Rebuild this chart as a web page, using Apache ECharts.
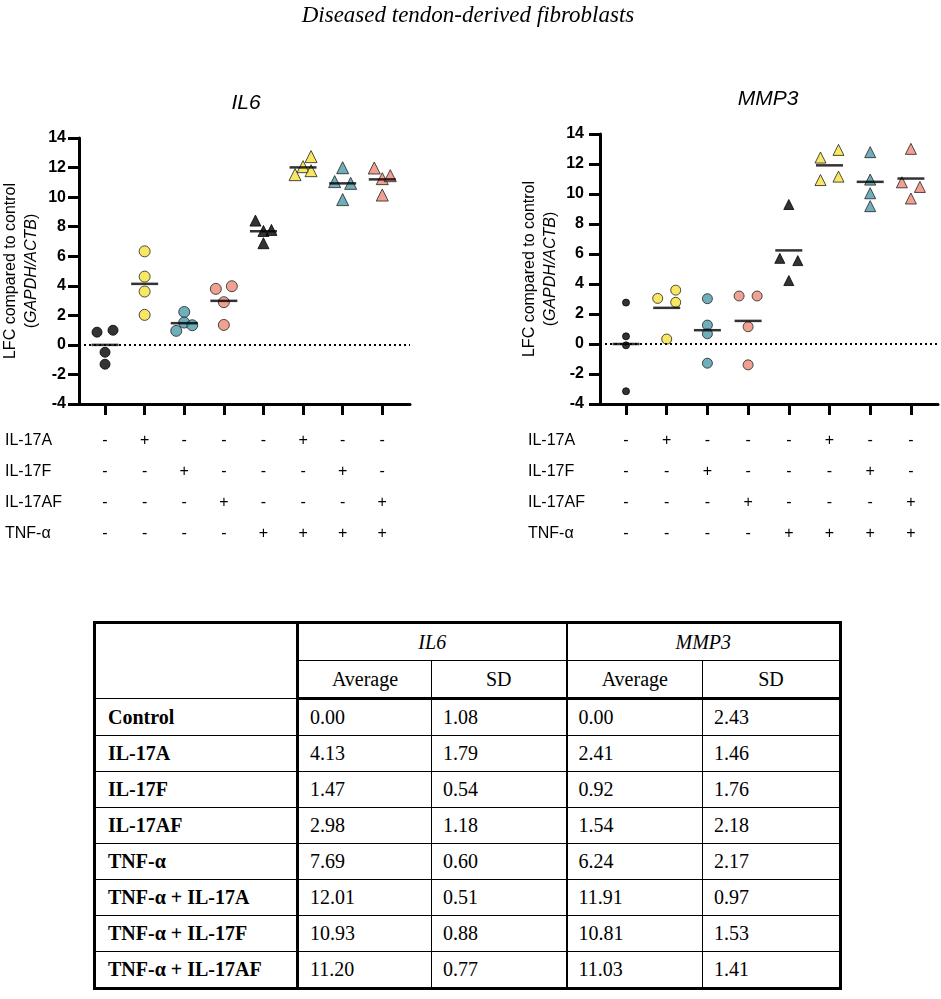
<!DOCTYPE html>
<html>
<head>
<meta charset="utf-8">
<script src="https://cdn.jsdelivr.net/npm/echarts@6/dist/echarts.min.js"></script>
<style>
  body { margin: 0; background: #fff; }
  #title { position: absolute; left: 0; top: 0; width: 941px; height: 36px; }
  #il6 { position: absolute; left: 0; top: 36px; width: 470px; height: 574px; }
  #mmp3 { position: absolute; left: 470px; top: 36px; width: 471px; height: 574px; }
  #tbl { position: absolute; left: 93px; top: 621px; width: 746px; table-layout: fixed;
         border-collapse: collapse; border: 3px solid #000;
         font-family: 'Liberation Serif', 'Times New Roman', serif; font-size: 20px; color: #000; }
  #tbl td { border: 1.5px solid #000; padding: 0 0 0 11px; height: 35px; }
  #tbl tr.h td { text-align: center; padding: 0; height: 36px; }
  #tbl tr.h2 td { border-bottom: 3px solid #000; }
  #tbl td.lab { border-right: 3px solid #000; padding-left: 12px; font-weight: bold; }
  #tbl td.gl { border-left: 2.5px solid #000; }
</style>
</head>
<body>
<div id="title"></div>
<div id="il6"></div>
<div id="mmp3"></div>
<table id="tbl">
  <colgroup><col style="width:203px"><col style="width:134px"><col style="width:135px"><col style="width:136px"><col style="width:138px"></colgroup>
  <tbody id="tbody"></tbody>
</table>
<script>
// groups, in plot order
const categories = ['Control', 'IL-17A', 'IL-17F', 'IL-17AF', 'TNF-α', 'TNF-α + IL-17A', 'TNF-α + IL-17F', 'TNF-α + IL-17AF'];
const conditionNames = ['IL-17A', 'IL-17F', 'IL-17AF', 'TNF-α'];
const conditions = [
  ['-', '+', '-', '-', '-', '+', '-', '-'],
  ['-', '-', '+', '-', '-', '-', '+', '-'],
  ['-', '-', '-', '+', '-', '-', '-', '+'],
  ['-', '-', '-', '-', '+', '+', '+', '+']
];
const groupColors = ['#000000', '#F6E13C', '#4B9AA9', '#EE8A76', '#000000', '#F6E13C', '#4B9AA9', '#EE8A76'];
const groupShapes = ['circle', 'circle', 'circle', 'circle', 'triangle', 'triangle', 'triangle', 'triangle'];

// individual replicates (LFC)
const il6Points = [
  [0.86, 0.99, -0.50, -1.31],
  [6.33, 4.62, 3.61, 2.03],
  [2.23, 0.95, 1.51, 1.33],
  [3.79, 3.97, 2.89, 1.35],
  [8.41, 7.71, 7.78, 6.88],
  [11.52, 12.06, 12.74, 11.79],
  [11.99, 11.05, 10.93, 9.83],
  [11.97, 11.25, 11.45, 10.14]
];
const il6Jitter = [
  [-1, 1, 0, 0], [0, 0, 0, 0], [0, -1, 0, 1], [-1, 1, 0, 0],
  [-1, 0, 1, 0], [-1, 0, 1, 1], [0, -1, 1, 0], [-1, 0, 1, 0]
];
const mmp3Points = [
  [2.76, 0.51, -0.09, -3.15],
  [3.04, 3.59, 2.78, 0.33],
  [3.02, 1.26, 0.68, -1.28],
  [3.20, 3.20, 1.15, -1.39],
  [9.30, 5.71, 5.56, 4.23],
  [12.43, 12.94, 10.93, 11.16],
  [12.79, 10.96, 10.05, 9.19],
  [13.01, 10.78, 10.47, 9.70]
];
const mmp3Jitter = [
  [0, 0, 0, 0], [-1, 1, 1, 0], [0, 0, 0, 0], [-1, 1, 0, 0],
  [0, -1, 1, 0], [-1, 1, -1, 1], [0, 0, 0, 0], [0, -1, 1, 0]
];

// summary table
const il6Avg = [0.00, 4.13, 1.47, 2.98, 7.69, 12.01, 10.93, 11.20];
const il6Sd = [1.08, 1.79, 0.54, 1.18, 0.60, 0.51, 0.88, 0.77];
const mmp3Avg = [0.00, 2.41, 0.92, 1.54, 6.24, 11.91, 10.81, 11.03];
const mmp3Sd = [2.43, 1.46, 1.76, 2.18, 2.17, 0.97, 1.53, 1.41];

const yMin = -4, yMax = 14, yStep = 2;

const sans = "'Liberation Sans', Arial, sans-serif";
const tickValues = categories.map((c, i) => i + 1);

function plainText(x, y, text, extra) {
  return {
    type: 'text', x: x, y: y, rotation: extra.rotation || 0,
    style: {
      text: text, fontFamily: extra.family || sans, fontSize: extra.size || 16,
      fontStyle: extra.italic ? 'italic' : 'normal', fill: '#000',
      textAlign: extra.align || 'center', textVerticalAlign: 'middle'
    }
  };
}

const measure = document.createElement('canvas').getContext('2d');
measure.font = "italic 16px 'Liberation Sans'";
const geneW = measure.measureText('GAPDH/ACTB').width;

// one dot plot per chart instance
function drawPlot(elId, cfg) {
  const texts = [plainText(cfg.titleX, cfg.titleY, cfg.title, { size: 21, italic: true })];
  const up = Math.PI / 2;
  texts.push(plainText(cfg.nameX, cfg.nameY, 'LFC compared to control', { rotation: up }));
  texts.push(plainText(cfg.nameX + 21, cfg.nameY, 'GAPDH/ACTB', { rotation: up, italic: true }));
  texts.push(plainText(cfg.nameX + 21, cfg.nameY + geneW / 2, '(', { rotation: up, align: 'right' }));
  texts.push(plainText(cfg.nameX + 21, cfg.nameY - geneW / 2, ')', { rotation: up, align: 'left' }));
  conditionNames.forEach((n, r) => {
    texts.push(plainText(cfg.rowX, cfg.rowY + r * 31, n, { align: 'left' }));
  });

  const series = categories.map((c, i) => {
    const black = groupColors[i] === '#000000';
    const size = groupShapes[i] === 'circle' ? (black ? cfg.dot : cfg.circle) : (black ? cfg.tri - 1 : cfg.tri);
    return {
      name: c, type: 'scatter', symbol: groupShapes[i], symbolSize: size,
      itemStyle: { color: groupColors[i], borderColor: black ? '#000' : '#222', borderWidth: 1 },
      data: cfg.points[i].map((v, k) => ({ value: [i + 1, v], symbolOffset: [cfg.jitter[i][k] * cfg.spread, 0] })),
      z: 3
    };
  });
  series.push({
    name: 'mean', type: 'scatter', symbol: 'rect', symbolSize: [27, 2.5], itemStyle: { color: '#000' },
    data: cfg.avg.map((v, i) => [i + 1, v]), z: 5,
    markLine: {
      silent: true, symbol: ['none', 'none'], label: { show: false },
      lineStyle: { color: '#000', width: 2, type: [2, 3] },
      data: [{ yAxis: 0 }]
    }
  });

  const chart = echarts.init(document.getElementById(elId));
  chart.setOption({
    animation: false,
    graphic: texts,
    grid: cfg.grid,
    xAxis: {
      type: 'value', min: cfg.xMin, max: cfg.xMax,
      splitLine: { show: false },
      axisLine: { show: true, onZero: false, lineStyle: { color: '#000', width: 3 } },
      axisTick: { show: true, customValues: tickValues, length: 11, lineStyle: { color: '#000', width: 3 } },
      axisLabel: {
        customValues: tickValues, margin: 21, color: '#000', fontFamily: sans, fontSize: 16, lineHeight: 31,
        formatter: v => conditions.map(row => row[Math.round(v) - 1]).join('\n')
      }
    },
    yAxis: {
      type: 'value', min: yMin, max: yMax, interval: yStep,
      splitLine: { show: false },
      axisLine: { show: true, onZero: false, lineStyle: { color: '#000', width: 3 } },
      axisTick: { show: true, length: 11, lineStyle: { color: '#000', width: 3 } },
      axisLabel: { margin: cfg.labelMargin, color: '#000', fontFamily: sans, fontSize: 16, fontWeight: 'bold' }
    },
    series: series
  });
  return chart;
}

const titleChart = echarts.init(document.getElementById('title'));
titleChart.setOption({
  animation: false,
  graphic: [plainText(468, 16, 'Diseased tendon-derived fibroblasts', { family: "'Liberation Serif', serif", size: 23, italic: true })]
});

const il6Chart = drawPlot('il6', {
  title: 'IL6', titleX: 246, titleY: 67,
  nameX: 10.5, nameY: 235, rowX: 5, rowY: 405,
  grid: { left: 79, top: 102, width: 331, height: 266 },
  xMin: 0.343, xMax: 8.70, labelMargin: 13,
  points: il6Points, jitter: il6Jitter, avg: il6Avg, spread: 8,
  dot: 10, circle: 11, tri: 12
});
const mmp3Chart = drawPlot('mmp3', {
  title: 'MMP3', titleX: 298, titleY: 63,
  nameX: 59.5, nameY: 233, rowX: 58, rowY: 405,
  grid: { left: 130, top: 98, width: 338, height: 270 },
  xMin: 0.361, xMax: 8.666, labelMargin: 16,
  points: mmp3Points, jitter: mmp3Jitter, avg: mmp3Avg, spread: 9,
  dot: 7, circle: 10, tri: 11
});

// table below the plots
let html = '<tr class="h"><td class="lab" rowspan="2"></td><td colspan="2"><i>IL6</i></td><td class="gl" colspan="2"><i>MMP3</i></td></tr>';
html += '<tr class="h h2"><td>Average</td><td>SD</td><td class="gl">Average</td><td>SD</td></tr>';
categories.forEach((c, i) => {
  html += '<tr><td class="lab">' + c + '</td><td>' + il6Avg[i].toFixed(2) + '</td><td>' + il6Sd[i].toFixed(2) +
    '</td><td class="gl">' + mmp3Avg[i].toFixed(2) + '</td><td>' + mmp3Sd[i].toFixed(2) + '</td></tr>';
});
document.getElementById('tbody').innerHTML = html;

window.addEventListener('resize', function () {
  titleChart.resize(); il6Chart.resize(); mmp3Chart.resize();
});
</script>
</body>
</html>
